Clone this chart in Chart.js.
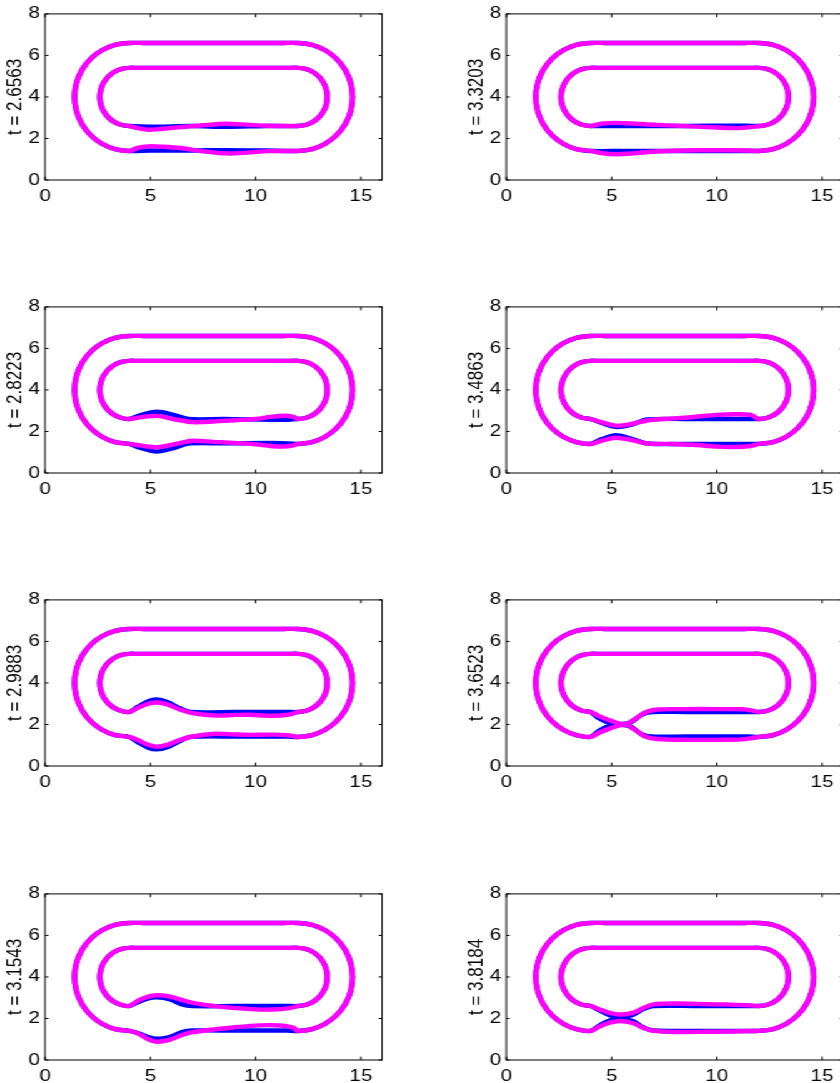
<!DOCTYPE html>
<html>
<head>
<meta charset="utf-8">
<script src="https://cdn.jsdelivr.net/npm/chart.js@4.4.1/dist/chart.umd.min.js"></script>
<style>
  html, body { margin: 0; padding: 0; background: #fff; overflow: hidden; width: 840px; height: 1083px; }
  /* the figure is laid out at 672 px and widened to 840 px */
  #sheet { position: absolute; left: 0; top: 0; width: 672px; height: 1083px;
           transform: scaleX(1.25); transform-origin: 0 0; }
  #sheet canvas { position: absolute; }
</style>
</head>
<body>
<div id="sheet"></div>
<script>
// ---- axes ----
const X_TICKS = [0, 5, 10, 15];
const Y_TICKS = [0, 2, 4, 6, 8];
const X_RANGE = [0, 16];
const Y_RANGE = [0, 8];
const TIMES = ['2.6563', '2.8223', '2.9883', '3.1543', '3.3203', '3.4863', '3.6523', '3.8184'];

// ---- fixed part of the track: top straights and the two rounded ends ----
// outer loop: half-width 2.6 around the centre line y = 4, ends centred at x = 4 and x = 12
const OUTER_HEAD = [
  [8.0, 6.6], [4.7, 6.6],
  [4.0, 6.6], [3.327, 6.511], [2.7, 6.252], [2.162, 5.838], [1.748, 5.3], [1.489, 4.673], [1.4, 4.0],
  [1.489, 3.327], [1.748, 2.7], [2.162, 2.162], [2.7, 1.748], [3.327, 1.489], [4.0, 1.4]
];
const OUTER_TAIL = [
  [12.0, 1.4], [12.673, 1.489], [13.3, 1.748], [13.838, 2.162], [14.252, 2.7], [14.511, 3.327], [14.6, 4.0],
  [14.511, 4.673], [14.252, 5.3], [13.838, 5.838], [13.3, 6.252], [12.673, 6.511], [12.0, 6.6],
  [11.3, 6.6], [8.0, 6.6]
];
// inner loop: half-width 1.4
const INNER_HEAD = [
  [8.0, 5.4], [4.4, 5.4],
  [4.0, 5.4], [3.638, 5.352], [3.3, 5.212], [3.01, 4.99], [2.788, 4.7], [2.648, 4.362], [2.6, 4.0],
  [2.648, 3.638], [2.788, 3.3], [3.01, 3.01], [3.3, 2.788], [3.638, 2.648], [4.0, 2.6]
];
const INNER_TAIL = [
  [12.0, 2.6], [12.362, 2.648], [12.7, 2.788], [12.99, 3.01], [13.212, 3.3], [13.352, 3.638], [13.4, 4.0],
  [13.352, 4.362], [13.212, 4.7], [12.99, 4.99], [12.7, 5.212], [12.362, 5.352], [12.0, 5.4],
  [11.6, 5.4], [8.0, 5.4]
];

// ---- lower straight of the inner loop, one list per time ----
const INNER_MAGENTA = [
  [[4.4, 2.5], [4.9, 2.42], [5.6, 2.47], [6.5, 2.55], [7.5, 2.64], [8.6, 2.71], [9.6, 2.66], [10.6, 2.61], [11.5, 2.6]],
  [[4.5, 2.68], [5.3, 2.75], [6.1, 2.6], [7.0, 2.45], [8.0, 2.48], [9.0, 2.54], [10.0, 2.6], [10.7, 2.7], [11.3, 2.76], [11.8, 2.7]],
  [[4.4, 2.8], [4.9, 3.0], [5.3, 3.06], [5.8, 2.97], [6.4, 2.72], [7.0, 2.55], [8.1, 2.43], [9.0, 2.46], [9.7, 2.47], [10.8, 2.42], [11.6, 2.48]],
  [[4.4, 2.85], [4.9, 3.05], [5.3, 3.12], [5.9, 3.06], [6.7, 2.83], [7.5, 2.67], [8.9, 2.51], [10.0, 2.44], [10.8, 2.43], [11.6, 2.5]],
  [[4.5, 2.71], [5.2, 2.75], [6.0, 2.72], [6.7, 2.67], [8.0, 2.62], [9.0, 2.57], [10.0, 2.53], [11.0, 2.5], [11.7, 2.56]],
  [[4.5, 2.45], [5.2, 2.28], [5.9, 2.35], [6.7, 2.53], [7.8, 2.62], [8.9, 2.7], [10.0, 2.8], [10.8, 2.83], [11.6, 2.8]],
  [[4.4, 2.4], [4.9, 2.2], [5.6, 2.0], [6.1, 2.25], [6.6, 2.58], [7.2, 2.72], [8.5, 2.74], [10.0, 2.74], [11.2, 2.73], [11.7, 2.67]],
  [[4.4, 2.45], [4.9, 2.27], [5.4, 2.19], [6.0, 2.27], [6.5, 2.5], [7.0, 2.68], [8.1, 2.72], [9.5, 2.69], [10.5, 2.67], [11.5, 2.64]]
];
const INNER_BLUE = [
  [[5.0, 2.57], [7.0, 2.6], [8.6, 2.56], [10.5, 2.6]],
  [[4.5, 2.78], [5.3, 2.95], [6.1, 2.8], [6.8, 2.6], [8.5, 2.6], [11.2, 2.56]],
  [[4.4, 2.85], [4.9, 3.12], [5.3, 3.2], [5.8, 3.08], [6.4, 2.78], [6.9, 2.6], [9.0, 2.6], [11.5, 2.6]],
  [[4.4, 2.78], [4.9, 2.97], [5.3, 3.02], [5.9, 2.93], [6.5, 2.68], [7.0, 2.6], [9.0, 2.6], [11.5, 2.6]],
  [[5.5, 2.6], [8.5, 2.6], [11.0, 2.62]],
  [[4.5, 2.42], [5.2, 2.22], [5.9, 2.32], [6.7, 2.58], [8.5, 2.6], [11.5, 2.6]],
  [[4.4, 2.3], [4.9, 2.07], [5.4, 2.02], [5.9, 2.1], [6.4, 2.45], [6.9, 2.6], [8.5, 2.6], [11.5, 2.6]],
  [[4.4, 2.4], [4.9, 2.16], [5.4, 2.07], [6.0, 2.17], [6.5, 2.45], [7.0, 2.6], [9.0, 2.6], [11.5, 2.6]]
];

// ---- lower straight of the outer loop, one list per time ----
const OUTER_MAGENTA = [
  [[4.4, 1.55], [4.9, 1.62], [5.6, 1.6], [6.5, 1.53], [7.5, 1.38], [8.6, 1.28], [9.6, 1.32], [10.6, 1.39], [11.5, 1.4]],
  [[4.5, 1.33], [5.3, 1.24], [6.1, 1.38], [7.0, 1.55], [8.0, 1.5], [9.0, 1.45], [10.0, 1.38], [10.7, 1.3], [11.3, 1.27], [11.8, 1.33]],
  [[4.4, 1.25], [4.9, 1.02], [5.3, 0.93], [5.8, 1.02], [6.4, 1.25], [7.0, 1.42], [8.1, 1.55], [9.0, 1.52], [9.7, 1.5], [10.8, 1.51], [11.6, 1.47]],
  [[4.4, 1.28], [4.9, 1.0], [5.3, 0.88], [5.9, 0.97], [6.5, 1.2], [7.0, 1.34], [8.0, 1.47], [9.0, 1.58], [10.2, 1.67], [11.2, 1.66], [11.8, 1.55]],
  [[4.5, 1.3], [5.2, 1.24], [6.0, 1.28], [6.7, 1.35], [8.0, 1.41], [9.0, 1.43], [10.5, 1.43], [11.5, 1.42]],
  [[4.5, 1.55], [5.2, 1.7], [5.9, 1.6], [6.7, 1.42], [7.8, 1.4], [8.9, 1.36], [10.0, 1.27], [10.8, 1.25], [11.6, 1.3]],
  [[4.4, 1.6], [4.9, 1.8], [5.6, 2.0], [6.1, 1.75], [6.6, 1.42], [7.2, 1.3], [8.5, 1.26], [10.0, 1.26], [11.2, 1.28], [11.7, 1.35]],
  [[4.4, 1.6], [4.9, 1.8], [5.4, 1.88], [6.0, 1.78], [6.5, 1.55], [7.0, 1.4], [8.1, 1.35], [9.5, 1.36], [10.5, 1.37], [11.5, 1.4]]
];
const OUTER_BLUE = [
  [[5.0, 1.42], [7.0, 1.42], [8.6, 1.44], [10.5, 1.42]],
  [[4.5, 1.22], [5.3, 1.03], [6.1, 1.2], [6.8, 1.42], [8.5, 1.43], [11.2, 1.44]],
  [[4.4, 1.15], [4.9, 0.88], [5.3, 0.8], [5.8, 0.9], [6.4, 1.2], [6.9, 1.4], [9.0, 1.42], [11.5, 1.42]],
  [[4.4, 1.3], [4.9, 1.1], [5.3, 1.02], [5.9, 1.1], [6.5, 1.35], [7.0, 1.42], [9.0, 1.42], [11.5, 1.42]],
  [[5.5, 1.4], [8.5, 1.4], [11.0, 1.4]],
  [[4.5, 1.62], [5.2, 1.82], [5.9, 1.66], [6.7, 1.42], [8.5, 1.4], [11.5, 1.4]],
  [[4.4, 1.7], [4.9, 1.93], [5.4, 1.98], [5.9, 1.9], [6.4, 1.55], [6.9, 1.42], [8.5, 1.42], [11.5, 1.42]],
  [[4.4, 1.65], [4.9, 1.9], [5.4, 1.99], [6.0, 1.88], [6.5, 1.58], [7.0, 1.42], [9.0, 1.4], [11.5, 1.4]]
];

// ---- look ----
const MAGENTA = '#ff00ff';
const BLUE = '#0000ff';
const FONT = 'Liberation Sans, Arial, Helvetica, sans-serif';

// panel geometry (in the 672 px wide sheet)
const AXIS_W = 36;          // room for y labels
const AXIS_H = 30;          // room for x labels
const PAD_TOP = 12;
const PLOT_W = 269.6;
const CANVAS_W = 322;
const CANVAS_H = 210;
const COL_LEFT = [36, 405.3];
const ROW_TOP = [11.7, 305.0, 598.3, 891.7];

function closedLoop(head, bottom, tail) {
  return head.concat(bottom, tail).map(([x, y]) => ({ x, y }));
}

function curve(points, color) {
  return {
    data: points,
    showLine: true,
    borderColor: color,
    backgroundColor: color,
    borderWidth: 4.4,
    pointRadius: 0,
    tension: 0.3,
    fill: false,
    borderJoinStyle: 'round',
    borderCapStyle: 'round'
  };
}

// box around the plot with short inward tick marks on all four sides
const boxPlugin = {
  id: 'box',
  afterDraw(chart) {
    const { ctx, chartArea: a, scales } = chart;
    const x = scales.x, y = scales.y;
    ctx.save();
    ctx.strokeStyle = '#000';
    ctx.lineWidth = 1;
    ctx.strokeRect(a.left, a.top, a.right - a.left, a.bottom - a.top);
    ctx.beginPath();
    X_TICKS.forEach(v => {
      const px = x.getPixelForValue(v);
      ctx.moveTo(px, a.bottom); ctx.lineTo(px, a.bottom - 3.4);
      ctx.moveTo(px, a.top); ctx.lineTo(px, a.top + 3.4);
    });
    Y_TICKS.forEach(v => {
      const py = y.getPixelForValue(v);
      ctx.moveTo(a.left, py); ctx.lineTo(a.left + 2.7, py);
      ctx.moveTo(a.right, py); ctx.lineTo(a.right - 2.7, py);
    });
    ctx.stroke();
    ctx.restore();
  }
};

const sheet = document.getElementById('sheet');

TIMES.forEach((t, i) => {
  const col = i < 4 ? 0 : 1;
  const row = i % 4;
  const canvas = document.createElement('canvas');
  canvas.width = CANVAS_W;
  canvas.height = CANVAS_H;
  canvas.style.left = (COL_LEFT[col] - AXIS_W) + 'px';
  canvas.style.top = (ROW_TOP[row] - PAD_TOP) + 'px';
  canvas.style.width = CANVAS_W + 'px';
  canvas.style.height = CANVAS_H + 'px';
  sheet.appendChild(canvas);

  const datasets = [
    curve(closedLoop(OUTER_HEAD, OUTER_MAGENTA[i], OUTER_TAIL), MAGENTA),
    curve(closedLoop(INNER_HEAD, INNER_MAGENTA[i], INNER_TAIL), MAGENTA),
    curve(closedLoop(OUTER_HEAD, OUTER_BLUE[i], OUTER_TAIL), BLUE),
    curve(closedLoop(INNER_HEAD, INNER_BLUE[i], INNER_TAIL), BLUE)
  ];

  new Chart(canvas, {
    type: 'scatter',
    data: { datasets },
    options: {
      responsive: false,
      animation: false,
      events: [],
      layout: { padding: { left: 0, top: PAD_TOP, right: CANVAS_W - AXIS_W - PLOT_W, bottom: 0 } },
      plugins: { legend: { display: false }, tooltip: { enabled: false } },
      scales: {
        x: {
          type: 'linear',
          min: X_RANGE[0], max: X_RANGE[1],
          afterBuildTicks: s => { s.ticks = X_TICKS.map(value => ({ value })); },
          afterFit: s => { s.height = AXIS_H; },
          grid: { display: false, drawTicks: false },
          border: { display: false },
          ticks: { autoSkip: false, maxRotation: 0, padding: 7, color: '#000', font: { family: FONT, size: 16.5 } }
        },
        y: {
          type: 'linear',
          min: Y_RANGE[0], max: Y_RANGE[1],
          afterBuildTicks: s => { s.ticks = Y_TICKS.map(value => ({ value })); },
          afterFit: s => { s.width = AXIS_W; },
          grid: { display: false, drawTicks: false },
          border: { display: false },
          ticks: { autoSkip: false, padding: 4, color: '#000', font: { family: FONT, size: 16.5 } },
          title: { display: true, text: 't = ' + t, color: '#000', padding: { top: 2.5, bottom: 0 }, font: { family: FONT, size: 17 } }
        }
      }
    },
    plugins: [boxPlugin]
  });
});
</script>
</body>
</html>
